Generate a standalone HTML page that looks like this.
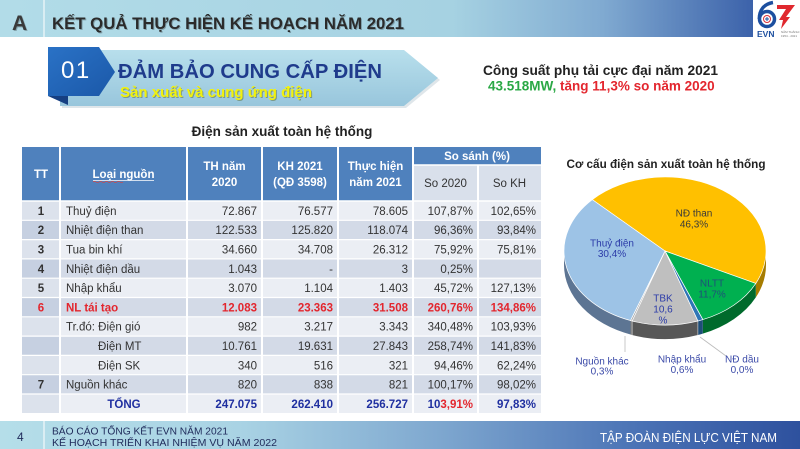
<!DOCTYPE html>
<html>
<head>
<meta charset="utf-8">
<style>
html,body{margin:0;padding:0;background:#fff;}
body{width:800px;height:449px;overflow:hidden;}
svg{display:block;}
</style>
</head>
<body>
<svg width="800" height="449" viewBox="0 0 800 449" xmlns="http://www.w3.org/2000/svg" font-family="'Liberation Sans', Arial, sans-serif">
<defs>
<linearGradient id="hdr" x1="0" y1="0" x2="753" y2="0" gradientUnits="userSpaceOnUse">
<stop offset="0" stop-color="#b2dce8"/>
<stop offset="0.6" stop-color="#a6d2e2"/>
<stop offset="0.8" stop-color="#80aad1"/>
<stop offset="1" stop-color="#3c62aa"/>
</linearGradient>
<linearGradient id="ftr" x1="0" y1="0" x2="800" y2="0" gradientUnits="userSpaceOnUse">
<stop offset="0" stop-color="#b5dee9"/>
<stop offset="0.3" stop-color="#a9d3e4"/>
<stop offset="0.55" stop-color="#7ea7cf"/>
<stop offset="0.8" stop-color="#4a72b5"/>
<stop offset="1" stop-color="#2e519e"/>
</linearGradient>
<linearGradient id="ban" x1="0" y1="0" x2="0" y2="1">
<stop offset="0" stop-color="#b8dfec"/>
<stop offset="1" stop-color="#98c6dc"/>
</linearGradient>
<linearGradient id="box" x1="0" y1="0" x2="1" y2="1">
<stop offset="0" stop-color="#2a72c6"/>
<stop offset="1" stop-color="#1b58a8"/>
</linearGradient>
</defs>

<rect width="800" height="449" fill="#fff"/>

<!-- Header -->
<rect x="0" y="0" width="753" height="37" fill="url(#hdr)"/>
<line x1="44" y1="0" x2="44" y2="37" stroke="#e6f3f7" stroke-width="1.5"/>
<text x="13" y="31" font-size="21" font-weight="bold" fill="#000" opacity="0.25">A</text>
<text x="12" y="30" font-size="21" font-weight="bold" fill="#3a3a3a">A</text>
<text x="53" y="30" font-size="17" font-weight="bold" fill="#000" opacity="0.25" textLength="352" lengthAdjust="spacingAndGlyphs">KẾT QUẢ THỰC HIỆN KẾ HOẠCH NĂM 2021</text>
<text x="52" y="29" font-size="17" font-weight="bold" fill="#2b2b2b" textLength="352" lengthAdjust="spacingAndGlyphs">KẾT QUẢ THỰC HIỆN KẾ HOẠCH NĂM 2021</text>

<!-- Logo -->
<rect x="753" y="0" width="47" height="40" fill="#fff"/>
<circle cx="767" cy="19" r="7.5" fill="none" stroke="#1d4f9f" stroke-width="3.5"/>
<path d="M759.3,19 C759.3,10 764,4 773,2.5" fill="none" stroke="#1d4f9f" stroke-width="3.5"/>
<circle cx="767" cy="19" r="3.5" fill="#fff" stroke="#d8323a" stroke-width="1"/>
<path d="M765,19 L769,19 M767,17 L767,21" stroke="#1d4f9f" stroke-width="1"/>
<path d="M777,5 L795,5 L786,17 L790,17 L781,29 L783,20 L779,20 L786,9 L777,9 Z" fill="#e0282e"/>
<text x="757" y="37" font-size="8.5" font-weight="bold" fill="#1d4f9f">EVN</text>
<text x="781" y="33" font-size="3" fill="#777">NĂM THÀNH LẬP</text>
<text x="781" y="37" font-size="3" fill="#777">1954 - 2021</text>

<!-- Banner -->
<polygon points="62,52 406,52 440,80 406,108 62,108" fill="#c9d6dc" opacity="0.6"/>
<polygon points="60,50 404,50 438,78 404,106 60,106" fill="url(#ban)"/>
<polygon points="48,47 99,47 115,72 99,96 48,96" fill="url(#box)"/>
<polygon points="48,96 68,96 68,105" fill="#163f82"/>
<text x="61" y="78" font-size="24" fill="#fff" letter-spacing="1.5">01</text>
<text x="118" y="78" font-size="20" font-weight="bold" fill="#1f3b8c" textLength="264" lengthAdjust="spacingAndGlyphs">ĐẢM BẢO CUNG CẤP ĐIỆN</text>
<text x="121" y="98" font-size="15" font-weight="bold" fill="#5a6a30" opacity="0.5" textLength="192" lengthAdjust="spacingAndGlyphs">Sản xuất và cung ứng điện</text>
<text x="120" y="97" font-size="15" font-weight="bold" fill="#f2f20c" textLength="192" lengthAdjust="spacingAndGlyphs">Sản xuất và cung ứng điện</text>

<!-- Right info -->
<text x="483" y="75" font-size="13.5" font-weight="bold" fill="#222" textLength="235" lengthAdjust="spacingAndGlyphs">Công suất phụ tải cực đại  năm 2021</text>
<text x="488" y="90.5" font-size="13.5" font-weight="bold" fill="#2aa845">43.518MW,<tspan fill="#e3262e"> tăng 11,3% so năm 2020</tspan></text>

<!-- Table title -->
<text x="282" y="136" font-size="13.5" font-weight="bold" fill="#222" text-anchor="middle">Điện sản xuất toàn hệ thống</text>

<!-- Table header -->
<rect x="22" y="147" width="519" height="54" fill="#4F81BD"/>
<rect x="413" y="165" width="128" height="36" fill="#D9E0EB"/>

<!-- Table rows -->
<g>
<rect x="22" y="201" width="519" height="19.3" fill="#EBEEF4"/>
<rect x="22" y="220.3" width="519" height="19.3" fill="#D3DAE7"/>
<rect x="22" y="239.6" width="519" height="19.3" fill="#EBEEF4"/>
<rect x="22" y="258.9" width="519" height="19.3" fill="#D3DAE7"/>
<rect x="22" y="278.2" width="519" height="19.3" fill="#EBEEF4"/>
<rect x="22" y="297.5" width="519" height="19.3" fill="#D3DAE7"/>
<rect x="22" y="316.8" width="519" height="19.3" fill="#EBEEF4"/>
<rect x="22" y="336.1" width="519" height="19.3" fill="#D3DAE7"/>
<rect x="22" y="355.4" width="519" height="19.3" fill="#EBEEF4"/>
<rect x="22" y="374.7" width="519" height="19.3" fill="#D3DAE7"/>
<rect x="22" y="394" width="519" height="19" fill="#EBEEF4"/>
<!-- TT column shading -->
<rect x="22" y="201" width="38" height="19.3" fill="#DCE2EC"/>
<rect x="22" y="220.3" width="38" height="19.3" fill="#C6D0E1"/>
<rect x="22" y="239.6" width="38" height="19.3" fill="#DCE2EC"/>
<rect x="22" y="258.9" width="38" height="19.3" fill="#C6D0E1"/>
<rect x="22" y="278.2" width="38" height="19.3" fill="#DCE2EC"/>
<rect x="22" y="297.5" width="38" height="19.3" fill="#C6D0E1"/>
<rect x="22" y="316.8" width="38" height="19.3" fill="#DCE2EC"/>
<rect x="22" y="336.1" width="38" height="19.3" fill="#C6D0E1"/>
<rect x="22" y="355.4" width="38" height="19.3" fill="#DCE2EC"/>
<rect x="22" y="374.7" width="38" height="19.3" fill="#C6D0E1"/>
<rect x="22" y="394" width="38" height="19" fill="#DCE2EC"/>
</g>

<!-- grid lines -->
<g stroke="#fff">
<line x1="413" y1="165" x2="541" y2="165" stroke-width="1.5"/>
<line x1="22" y1="201" x2="541" y2="201" stroke-width="1.5"/>
<line x1="22" y1="220.3" x2="541" y2="220.3" stroke-width="1.2"/>
<line x1="22" y1="239.6" x2="541" y2="239.6" stroke-width="1.2"/>
<line x1="22" y1="258.9" x2="541" y2="258.9" stroke-width="1.2"/>
<line x1="22" y1="278.2" x2="541" y2="278.2" stroke-width="1.2"/>
<line x1="22" y1="297.5" x2="541" y2="297.5" stroke-width="1.2"/>
<line x1="22" y1="316.8" x2="541" y2="316.8" stroke-width="1.2"/>
<line x1="22" y1="336.1" x2="541" y2="336.1" stroke-width="1.2"/>
<line x1="22" y1="355.4" x2="541" y2="355.4" stroke-width="1.2"/>
<line x1="22" y1="374.7" x2="541" y2="374.7" stroke-width="1.2"/>
<line x1="22" y1="394" x2="541" y2="394" stroke-width="1.2"/>
<line x1="60" y1="147" x2="60" y2="413" stroke-width="2"/>
<line x1="187" y1="147" x2="187" y2="413" stroke-width="2"/>
<line x1="262" y1="147" x2="262" y2="413" stroke-width="2"/>
<line x1="338" y1="147" x2="338" y2="413" stroke-width="2"/>
<line x1="413" y1="147" x2="413" y2="413" stroke-width="2"/>
<line x1="478" y1="165" x2="478" y2="413" stroke-width="2"/>
</g>

<!-- header text -->
<g font-size="11.5" font-weight="bold" fill="#fff" text-anchor="middle">
<text x="41" y="178">TT</text>
<text x="123.5" y="178">Loại nguồn</text>
<text x="224.5" y="170">TH năm</text>
<text x="224.5" y="186">2020</text>
<text x="300" y="170">KH 2021</text>
<text x="300" y="186">(QĐ 3598)</text>
<text x="375.5" y="170">Thực hiện</text>
<text x="375.5" y="186">năm 2021</text>
<text x="477" y="160">So sánh (%)</text>
</g>
<line x1="93" y1="180.5" x2="154" y2="180.5" stroke="#fff" stroke-width="0.8"/>
<path d="M93,182 q1.5,-1.2 3,0 t3,0 t3,0 t3,0 t3,0 t3,0 t3,0 t3,0 t3,0 t3,0" fill="none" stroke="#d04848" stroke-width="0.7"/>
<g font-size="11.5" fill="#333" text-anchor="middle">
<text x="445.5" y="187">So 2020</text>
<text x="509.5" y="187">So KH</text>
</g>

<!-- TT column -->
<g font-size="11.5" font-weight="bold" fill="#333" text-anchor="middle">
<text x="41" y="214.9">1</text>
<text x="41" y="234.2">2</text>
<text x="41" y="253.5">3</text>
<text x="41" y="272.8">4</text>
<text x="41" y="292.1">5</text>
<text x="41" y="311.4" fill="#e3262e">6</text>
<text x="41" y="388.6">7</text>
</g>

<!-- Loại nguồn -->
<g font-size="11.5" fill="#333">
<text x="66" y="214.9">Thuỷ điện</text>
<text x="66" y="234.2">Nhiệt điện than</text>
<text x="66" y="253.5">Tua bin khí</text>
<text x="66" y="272.8">Nhiệt điện dầu</text>
<text x="66" y="292.1">Nhập khẩu</text>
<text x="66" y="311.4" font-weight="bold" fill="#e3262e">NL tái tạo</text>
<text x="66" y="330.7">Tr.đó: Điện gió</text>
<text x="98" y="350">Điện MT</text>
<text x="98" y="369.3">Điện SK</text>
<text x="66" y="388.6">Nguồn khác</text>
<text x="124" y="407.9" font-weight="bold" fill="#1f2fa0" text-anchor="middle">TỔNG</text>
</g>

<!-- numbers -->
<g font-size="11.5" fill="#333" text-anchor="end">
<text x="257" y="214.9">72.867</text><text x="333" y="214.9">76.577</text><text x="408" y="214.9">78.605</text><text x="473" y="214.9">107,87%</text><text x="536" y="214.9">102,65%</text>
<text x="257" y="234.2">122.533</text><text x="333" y="234.2">125.820</text><text x="408" y="234.2">118.074</text><text x="473" y="234.2">96,36%</text><text x="536" y="234.2">93,84%</text>
<text x="257" y="253.5">34.660</text><text x="333" y="253.5">34.708</text><text x="408" y="253.5">26.312</text><text x="473" y="253.5">75,92%</text><text x="536" y="253.5">75,81%</text>
<text x="257" y="272.8">1.043</text><text x="333" y="272.8">-</text><text x="408" y="272.8">3</text><text x="473" y="272.8">0,25%</text>
<text x="257" y="292.1">3.070</text><text x="333" y="292.1">1.104</text><text x="408" y="292.1">1.403</text><text x="473" y="292.1">45,72%</text><text x="536" y="292.1">127,13%</text>
<g font-weight="bold" fill="#e3262e">
<text x="257" y="311.4">12.083</text><text x="333" y="311.4">23.363</text><text x="408" y="311.4">31.508</text><text x="473" y="311.4">260,76%</text><text x="536" y="311.4">134,86%</text>
</g>
<text x="257" y="330.7">982</text><text x="333" y="330.7">3.217</text><text x="408" y="330.7">3.343</text><text x="473" y="330.7">340,48%</text><text x="536" y="330.7">103,93%</text>
<text x="257" y="350">10.761</text><text x="333" y="350">19.631</text><text x="408" y="350">27.843</text><text x="473" y="350">258,74%</text><text x="536" y="350">141,83%</text>
<text x="257" y="369.3">340</text><text x="333" y="369.3">516</text><text x="408" y="369.3">321</text><text x="473" y="369.3">94,46%</text><text x="536" y="369.3">62,24%</text>
<text x="257" y="388.6">820</text><text x="333" y="388.6">838</text><text x="408" y="388.6">821</text><text x="473" y="388.6">100,17%</text><text x="536" y="388.6">98,02%</text>
<g font-weight="bold" fill="#1f2fa0">
<text x="257" y="407.9">247.075</text><text x="333" y="407.9">262.410</text><text x="408" y="407.9">256.727</text><text x="473" y="407.9">10<tspan fill="#e3262e">3,91%</tspan></text><text x="536" y="407.9">97,83%</text>
</g>
</g>

<!-- Pie chart -->
<text x="666" y="168" font-size="11.7" font-weight="bold" fill="#222" text-anchor="middle" textLength="199" lengthAdjust="spacingAndGlyphs">Cơ cấu điện sản xuất toàn hệ thống</text>

<!-- sides -->
<path d="M766,251 A101,74 0 0 1 755.8,283.4 L755.8,297.4 A101,74 0 0 0 766,265 Z" fill="#a67c00"/>
<path d="M755.8,283.4 A101,74 0 0 1 702.8,319.6 L702.8,333.6 A101,74 0 0 0 755.8,297.4 Z" fill="#006a2c"/>
<path d="M702.8,319.6 A101,74 0 0 1 697.9,321 L697.9,335 A101,74 0 0 0 702.8,333.6 Z" fill="#1f4e79"/>
<path d="M697.9,321 A101,74 0 0 1 632.1,321 L632.1,335 A101,74 0 0 0 697.9,335 Z" fill="#575757"/>
<path d="M632.1,321 A101,74 0 0 1 630.5,320.5 L630.5,334.5 A101,74 0 0 0 632.1,335 Z" fill="#777"/>
<path d="M630.5,320.5 A101,74 0 0 1 564,251 L564,265 A101,74 0 0 0 630.5,334.5 Z" fill="#5d7593"/>
<line x1="632.1" y1="321" x2="632.1" y2="335" stroke="#ddd" stroke-width="0.6"/>
<line x1="697.9" y1="321" x2="697.9" y2="335" stroke="#ddd" stroke-width="0.6"/>

<!-- top faces -->
<g stroke="#fff" stroke-width="0.7" stroke-linejoin="round">
<path d="M665,251 L592.3,199.6 A101,74 0 0 1 755.8,283.4 Z" fill="#FFC000"/>
<path d="M665,251 L755.8,283.4 A101,74 0 0 1 702.8,319.6 Z" fill="#00B050"/>
<path d="M665,251 L702.8,319.6 A101,74 0 0 1 697.9,321 Z" fill="#2E75B6"/>
<path d="M665,251 L697.9,321 A101,74 0 0 1 632.1,321 Z" fill="#BFBFBF"/>
<path d="M665,251 L632.1,321 A101,74 0 0 1 630.5,320.5 Z" fill="#A5A5A5"/>
<path d="M665,251 L630.5,320.5 A101,74 0 0 1 592.3,199.6 Z" fill="#9DC3E6"/>
</g>

<!-- leader lines -->
<line x1="625" y1="336" x2="625" y2="352" stroke="#bbb" stroke-width="0.8"/>
<line x1="700" y1="337" x2="726" y2="356" stroke="#bbb" stroke-width="0.8"/>

<!-- pie labels -->
<g font-size="10" text-anchor="middle">
<text x="694" y="216.5" fill="#3a3a3a">NĐ than</text>
<text x="694" y="227.5" fill="#3a3a3a">46,3%</text>
<text x="612" y="246.5" fill="#2b3ba8">Thuỷ điện</text>
<text x="612" y="257" fill="#2b3ba8">30,4%</text>
<text x="712" y="286.5" fill="#1f4f7a">NLTT</text>
<text x="712" y="297.5" fill="#1f4f7a">11,7%</text>
<text x="663" y="301.5" fill="#2b3ba8">TBK</text>
<text x="663" y="312.5" fill="#2b3ba8">10,6</text>
<text x="663" y="323.5" fill="#2b3ba8">%</text>
<text x="602" y="364.5" fill="#3b4aa8">Nguồn khác</text>
<text x="602" y="374.5" fill="#3b4aa8">0,3%</text>
<text x="682" y="362.5" fill="#3b4aa8">Nhập khẩu</text>
<text x="682" y="373" fill="#3b4aa8">0,6%</text>
<text x="742" y="362.5" fill="#3b4aa8">NĐ dầu</text>
<text x="742" y="373" fill="#3b4aa8">0,0%</text>
</g>

<!-- Footer -->
<rect x="0" y="421" width="800" height="28" fill="url(#ftr)"/>
<line x1="44" y1="421" x2="44" y2="449" stroke="#e6f3f7" stroke-width="1.5"/>
<text x="17" y="441" font-size="12" fill="#1f2a5a">4</text>
<text x="52" y="434.5" font-size="10.5" fill="#1f2a5a" textLength="176" lengthAdjust="spacingAndGlyphs">BÁO CÁO TỔNG KẾT EVN NĂM 2021</text>
<text x="52" y="446" font-size="10.5" fill="#1f2a5a" textLength="225" lengthAdjust="spacingAndGlyphs">KẾ HOẠCH TRIỂN KHAI NHIỆM VỤ NĂM 2022</text>
<text x="600" y="442" font-size="13" fill="#fff" textLength="177" lengthAdjust="spacingAndGlyphs">TẬP ĐOÀN ĐIỆN LỰC VIỆT NAM</text>
</svg>
</body>
</html>
